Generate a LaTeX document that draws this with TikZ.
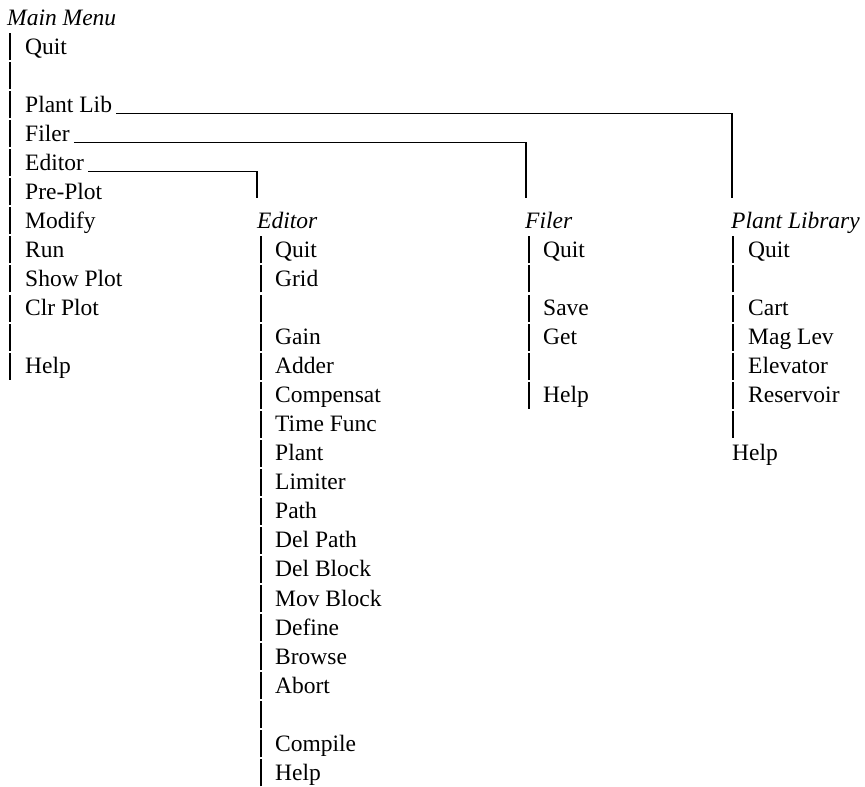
\documentclass[tikz,border=0pt]{standalone}
\usepackage{fontspec}
\setmainfont{Liberation Serif}
\begin{document}
\begin{tikzpicture}[x=1pt,y=-1pt,
  item/.style={anchor=base west,inner sep=0pt,font=\fontsize{23.5}{28}\selectfont},
  head/.style={anchor=base west,inner sep=0pt,font=\fontsize{23.5}{28}\selectfont\itshape},
  menubar/.style={line width=1.1pt},
  link/.style={line width=1.3pt}]
\useasboundingbox (0,0) rectangle (865,787);
% Main menu
\node[head] (mhead) at (7,25) {Main Menu};
\foreach \k/\t in {1/Quit,2/,3/Plant Lib,4/Filer,5/Editor,6/Pre-Plot,7/Modify,8/Run,9/Show Plot,10/Clr Plot,11/,12/Help}{
  \pgfmathsetmacro\yy{25+29.05*\k}
  \draw[menubar] (10,\yy+6) -- (10,\yy-21);
  \node[item] (m\k) at (25,\yy) {\t};
}
% Editor column
\node[head] (ehead) at (257,{25+29.05*7}) {Editor};
\foreach \k/\t in {8/Quit,9/Grid,10/,11/Gain,12/Adder,13/Compensat,14/Time Func,15/Plant,16/Limiter,17/Path,18/Del Path,19/Del Block,20/Mov Block,21/Define,22/Browse,23/Abort,24/,25/Compile,26/Help}{
  \pgfmathsetmacro\yy{25+29.05*\k}
  \draw[menubar] (261,\yy+6) -- (261,\yy-21);
  \node[item] (e\k) at (275,\yy) {\t};
}
% Filer column
\node[head] (fhead) at (525,{25+29.05*7}) {Filer};
\foreach \k/\t in {8/Quit,9/,10/Save,11/Get,12/,13/Help}{
  \pgfmathsetmacro\yy{25+29.05*\k}
  \draw[menubar] (529,\yy+6) -- (529,\yy-21);
  \node[item] (f\k) at (543,\yy) {\t};
}
% Plant library column
\node[head] (phead) at (731,{25+29.05*7}) {Plant Library};
\foreach \k/\t in {8/Quit,9/,10/Cart,11/Mag Lev,12/Elevator,13/Reservoir,14/}{
  \pgfmathsetmacro\yy{25+29.05*\k}
  \draw[menubar] (733,\yy+6) -- (733,\yy-21);
  \node[item] (p\k) at (748,\yy) {\t};
}
\node[item] (p15) at (732,{25+29.05*15}) {Help};
% Connectors
\coordinate (eend) at (257,198);
\coordinate (fend) at (526,198);
\coordinate (pend) at (732,198);
\draw[link] ([xshift=4pt,yshift=-1pt]m5.base east) -| (eend);
\draw[link] ([xshift=4pt,yshift=-1pt]m4.base east) -| (fend);
\draw[link] ([xshift=4pt,yshift=-1pt]m3.base east) -| (pend);
\end{tikzpicture}
\end{document}
